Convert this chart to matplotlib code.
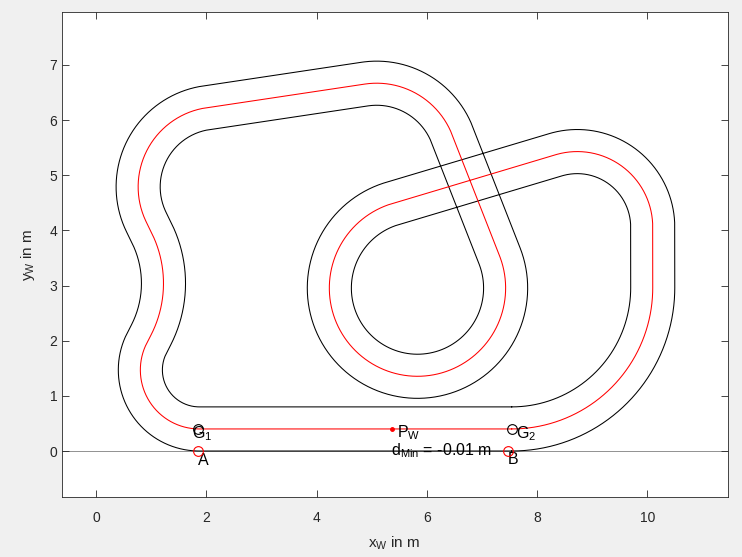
import numpy as np
import matplotlib.pyplot as plt

plt.rcParams['font.family'] = ['Liberation Sans', 'DejaVu Sans']

# track centreline = belt around these circles, in driving order
circle_x = [7.54, 8.73, 5.83, 5.09, 2.21, -0.83, 1.87]
circle_y = [2.96, 4.06, 2.955, 5.20, 4.79, 3.04, 1.47]
circle_r = [2.56, 1.37, 1.60, 1.47, 1.45, 2.05, 1.07]
circle_turn = [1, 1, 1, 1, 1, -1, 1]   # +1 left turn, -1 right turn
half_width = 0.4

# gates and boundary points
gate_x = [1.85, 7.54]
gate_y = [0.4, 0.4]
bound_x = [1.85, 7.47]
bound_y = [0.0, 0.0]
pw_x, pw_y = 5.36, 0.4
d_min = -0.01


def tangent_heading(i, j):
    # heading of the straight leaving circle i and entering circle j
    dx = circle_x[j] - circle_x[i]
    dy = circle_y[j] - circle_y[i]
    dist = np.hypot(dx, dy)
    k = circle_turn[j] * circle_r[j] - circle_turn[i] * circle_r[i]
    return np.arctan2(dy, dx) - np.arcsin(k / dist)


def arc(i, h_in, h_out, n=200):
    s = circle_turn[i]
    if s > 0:
        sweep = (h_out - h_in) % (2 * np.pi)
    else:
        sweep = -((h_in - h_out) % (2 * np.pi))
    h = h_in + np.linspace(0, sweep, n)
    x = circle_x[i] + s * circle_r[i] * np.sin(h)
    y = circle_y[i] - s * circle_r[i] * np.cos(h)
    return x, y, h


nc = len(circle_x)
xs, ys, hs = [], [], []
for i in range(nc):
    h_in = tangent_heading((i - 1) % nc, i)
    h_out = tangent_heading(i, (i + 1) % nc)
    x, y, h = arc(i, h_in, h_out)
    xs.append(x)
    ys.append(y)
    hs.append(h)
xs = np.concatenate(xs)
ys = np.concatenate(ys)
hs = np.concatenate(hs)
xs = np.append(xs, xs[0])
ys = np.append(ys, ys[0])
hs = np.append(hs, hs[0])

nx, ny = -np.sin(hs), np.cos(hs)

fig = plt.figure(figsize=(7.42, 5.57), dpi=100, facecolor="#f0f0f0")
ax = fig.add_axes([61.5 / 742, 60 / 557, 666 / 742, 485 / 557])

ax.axhline(0, color="#808080", lw=0.6, zorder=1)
ax.plot(xs + half_width * nx, ys + half_width * ny, color="black", lw=0.75, zorder=2)
ax.plot(xs - half_width * nx, ys - half_width * ny, color="black", lw=0.75, zorder=2)
ax.plot(xs, ys, color="red", lw=0.75, zorder=3)

ax.plot(gate_x, gate_y, "o", ms=7, mfc="none", mec="black", mew=0.8, zorder=4)
ax.plot(bound_x, bound_y, "o", ms=7, mfc="none", mec="red", mew=0.8, zorder=4)
ax.plot(pw_x, pw_y, ".", ms=5, color="red", zorder=4)

fs = 11.5
ax.text(1.745, 0.236, r"$\mathregular{G_1}$", fontsize=fs, va="baseline")
ax.text(7.615, 0.236, r"$\mathregular{G_2}$", fontsize=fs, va="baseline")
ax.text(1.845, -0.254, "A", fontsize=fs, va="baseline")
ax.text(7.47, -0.236, "B", fontsize=fs, va="baseline")
ax.text(5.46, 0.254, r"$\mathregular{P_W}$", fontsize=fs, va="baseline")
ax.text(5.355, -0.073, r"$\mathregular{d_{Min}}$ = %.2f m" % d_min, fontsize=fs, va="baseline")

ax.set_xlim(-0.631, 11.457)
ax.set_ylim(-0.834, 7.961)
ax.set_xticks(range(0, 11, 2))
ax.set_yticks(range(0, 8))
ax.tick_params(direction="in", top=True, right=True, length=5, width=0.6,
               colors="#262626", labelsize=10)
ax.tick_params(axis="x", pad=10)
ax.tick_params(axis="y", pad=3)
for sp in ax.spines.values():
    sp.set_color("#262626")
    sp.set_linewidth(0.6)

fig.text(394.5 / 742, 1 - 543 / 557, r"$\mathregular{x_W}$ in m", fontsize=11,
         ha="center", va="center", color="#262626")
fig.text(28 / 742, 1 - 254.5 / 557, r"$\mathregular{y_W}$ in m", fontsize=11,
         ha="center", va="center", rotation=90, color="#262626")

fig.savefig("out.png", dpi=100, facecolor=fig.get_facecolor())
